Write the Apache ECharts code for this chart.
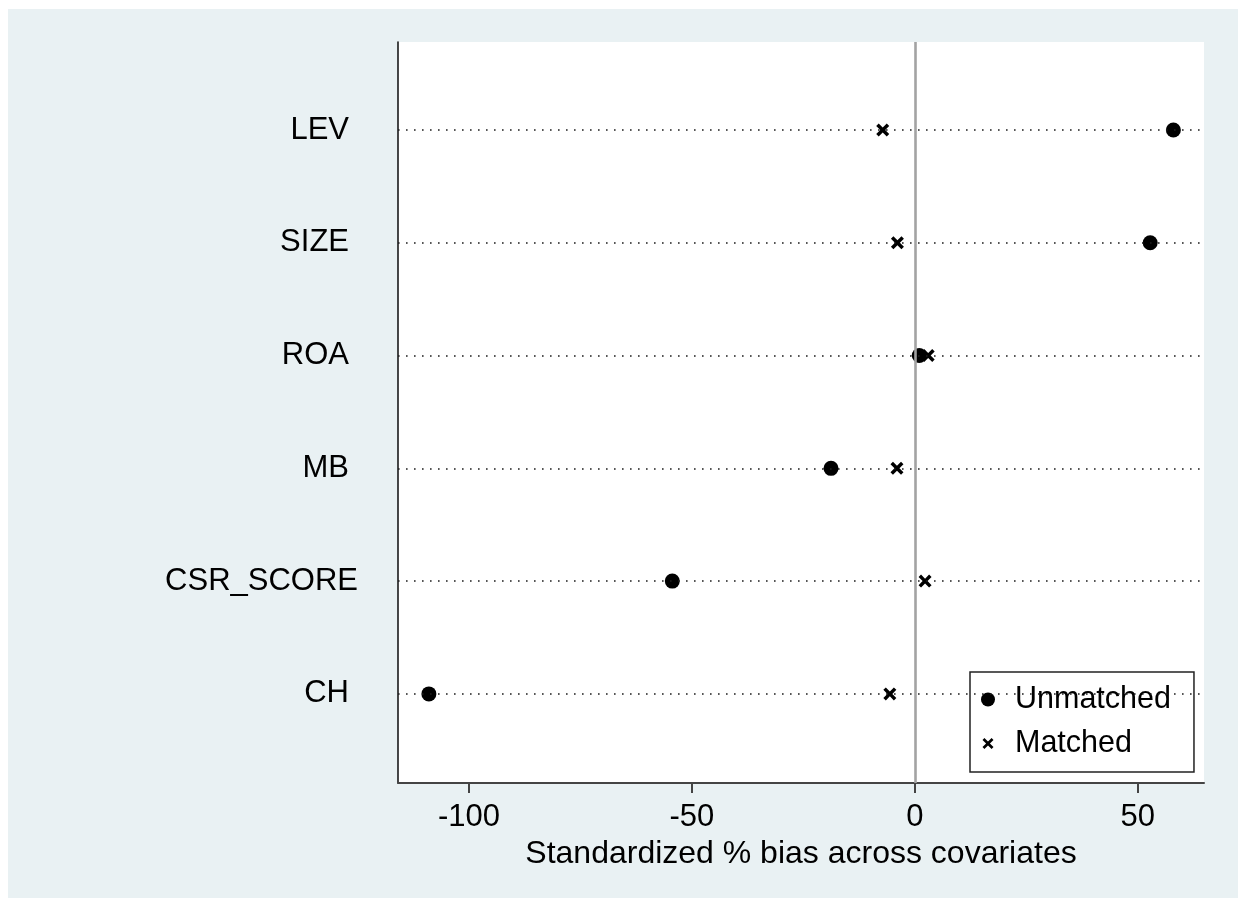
<!DOCTYPE html>
<html>
<head>
<meta charset="utf-8">
<script src="https://cdn.jsdelivr.net/npm/echarts@6/dist/echarts.min.js"></script>
<style>
  html, body { margin: 0; padding: 0; background: #ffffff; }
  #frame { position: absolute; left: 8px; top: 9px; width: 1230px; height: 889px; background: #e9f1f3; }
  #chart { width: 100%; height: 100%; }
</style>
</head>
<body>
<div id="frame"><div id="chart"></div></div>
<script>
// Standardized % bias per covariate, before and after matching
const covariates = ['LEV', 'SIZE', 'ROA', 'MB', 'CSR_SCORE', 'CH'];
const biasUnmatched = [58.0, 52.8, 1.0, -18.8, -54.4, -109.0];
const biasMatched = [-7.2, -3.9, 3.0, -4.0, 2.3, -5.6];
const xTickValues = [-100, -50, 0, 50];

const FONT = '"Liberation Sans", Arial, sans-serif';
// filled "x" marker
const CROSS = 'path://M0,1.9 L1.9,0 L5,3.1 L8.1,0 L10,1.9 L6.9,5 L10,8.1 L8.1,10 L5,6.9 L1.9,10 L0,8.1 L3.1,5 Z';
// same cross inset in a slightly larger box, for the legend key
const CROSS_KEY = 'path://M0,0 M14,14 M1.5,3.4 L3.4,1.5 L7,5.1 L10.6,1.5 L12.5,3.4 L8.9,7 L12.5,10.6 L10.6,12.5 L7,8.9 L3.4,12.5 L1.5,10.6 L5.1,7 Z';

const rowPos = covariates.map((_, i) => i + 1);

const chart = echarts.init(document.getElementById('chart'), null, { renderer: 'canvas' });

chart.setOption({
  backgroundColor: 'transparent',
  animation: false,
  grid: {
    left: 390, right: 34, top: 33, bottom: 115,
    show: true, backgroundColor: '#ffffff', borderWidth: 0
  },
  legend: {
    orient: 'vertical',
    left: 962, top: 663,
    padding: [12, 23, 13, 11],
    itemGap: 13,
    itemWidth: 14, itemHeight: 14,
    backgroundColor: '#ffffff',
    borderColor: '#222222', borderWidth: 1.5,
    textStyle: {
      fontFamily: FONT, fontSize: 30.5, color: '#000000', lineHeight: 30,
      padding: [0, 0, 0, 15]
    },
    data: [
      { name: 'Unmatched', icon: 'circle' },
      { name: 'Matched', icon: CROSS_KEY }
    ]
  },
  xAxis: {
    type: 'value',
    min: -115.93, max: 64.87,
    name: 'Standardized % bias across covariates',
    nameLocation: 'middle',
    nameGap: 44,
    nameTextStyle: { fontFamily: FONT, fontSize: 32, color: '#000000', lineHeight: 32 },
    axisLine: { show: true, onZero: false, lineStyle: { color: '#444444', width: 2 } },
    axisTick: { show: true, length: 10, customValues: xTickValues, lineStyle: { color: '#444444', width: 2 } },
    axisLabel: {
      customValues: xTickValues,
      margin: 19,
      fontFamily: FONT, fontSize: 31, color: '#000000', lineHeight: 31
    },
    splitLine: { show: false }
  },
  yAxis: {
    type: 'value',
    inverse: true,
    min: 0.22, max: 6.79,
    axisLine: { show: true, onZero: false, lineStyle: { color: '#1a1a1a', width: 1.6 } },
    axisTick: { show: false },
    splitLine: { show: false },
    axisLabel: {
      customValues: rowPos,
      margin: 40,
      fontFamily: FONT, fontSize: 31, color: '#000000',
      formatter: function (v) {
        const name = covariates[Math.round(v) - 1];
        return '{' + (name.length > 6 ? 'wide' : 'std') + '|' + name + '}';
      },
      rich: {
        std: { fontFamily: FONT, fontSize: 31, color: '#000000', padding: [0, 9, 0, 0] },
        wide: { fontFamily: FONT, fontSize: 31, color: '#000000' }
      }
    }
  },
  series: [
    {
      // reference lines: one dotted guide per covariate, solid grey line at zero
      type: 'scatter',
      data: [],
      silent: true,
      z: 1,
      markLine: {
        silent: true,
        symbol: 'none',
        animation: false,
        label: { show: false },
        data: rowPos.map(p => ({
          yAxis: p,
          lineStyle: { color: '#1e1e1e', width: 1.6, type: [1.6, 6.4] }
        })).concat([{
          xAxis: 0,
          lineStyle: { color: '#a3a3a3', width: 2.6, type: 'solid' }
        }])
      }
    },
    {
      name: 'Unmatched',
      type: 'scatter',
      z: 3,
      symbol: 'circle',
      symbolSize: 15,
      itemStyle: { color: '#000000', opacity: 1 },
      data: biasUnmatched.map((v, i) => [v, rowPos[i]])
    },
    {
      name: 'Matched',
      type: 'scatter',
      z: 4,
      symbol: CROSS,
      symbolSize: 13,
      itemStyle: { color: '#000000', opacity: 1 },
      data: biasMatched.map((v, i) => [v, rowPos[i]])
    }
  ]
});
</script>
</body>
</html>
